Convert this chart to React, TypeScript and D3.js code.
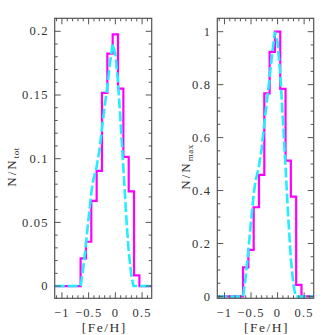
import React from "react";
import * as d3 from "d3";

// Bin edges of the [Fe/H] histogram (width 0.1 dex)
const binEdges = [-0.65, -0.55, -0.45, -0.35, -0.25, -0.15, -0.05, 0.05, 0.15, 0.25, 0.35, 0.45];
// Left panel: N/Ntot per bin
const histTot = [0.0217, 0.0348, 0.0669, 0.0904, 0.1516, 0.1825, 0.1976, 0.155, 0.1014, 0.0743, 0.0084];
// Right panel: N/Nmax per bin
const histMax = [0.11, 0.176, 0.337, 0.459, 0.767, 0.924, 1.0, 0.784, 0.513, 0.377, 0.044];

// Dashed model curve
const modelX = [-1.135, -0.65, -0.6, -0.55, -0.5, -0.45, -0.42, -0.35, -0.3, -0.25, -0.2, -0.15, -0.1, -0.05, 0.0, 0.05, 0.1, 0.15, 0.2, 0.25, 0.3, 0.34, 0.68];
const modelTot = [0, 0, 0.014, 0.033, 0.054, 0.073, 0.082, 0.0936, 0.106, 0.124, 0.141, 0.157, 0.175, 0.19, 0.182, 0.16, 0.127, 0.093, 0.057, 0.027, 0.008, 0, 0];
const modelMax = [0, 0, 0.074, 0.174, 0.284, 0.384, 0.432, 0.493, 0.558, 0.653, 0.742, 0.826, 0.921, 1.0, 0.958, 0.842, 0.668, 0.489, 0.3, 0.142, 0.042, 0, 0];

const xTicks = [-1, -0.5, 0, 0.5];
const xTickLabels = ["\u22121", "\u22120.5", "0", "0.5"];
const yTicksTot = [0, 0.05, 0.1, 0.15, 0.2];
const yTickLabelsTot = ["0", "0.05", "0.1", "0.15", "0.2"];
const yTicksMax = [0, 0.2, 0.4, 0.6, 0.8, 1];
const yTickLabelsMax = ["0", "0.2", "0.4", "0.6", "0.8", "1"];

const X_DOMAIN: [number, number] = [-1.135, 0.68];
const TOP = 18.3;
const BOTTOM = 298.3;
const FONT = "Liberation Serif, Times New Roman, serif";

type PanelProps = {
  left: number;
  right: number;
  yDomain: [number, number];
  hist: number[];
  model: number[];
  yTicks: number[];
  yTickLabels: string[];
  yMinorStep: number;
  sub: string;
  labelX: number;
};

function Panel(p: PanelProps) {
  const x = d3.scaleLinear().domain(X_DOMAIN).range([p.left, p.right]);
  const y = d3.scaleLinear().domain(p.yDomain).range([BOTTOM, TOP]);

  const pts: [number, number][] = [];
  pts.push([X_DOMAIN[0], 0]);
  pts.push([binEdges[0], 0]);
  p.hist.forEach((v, i) => {
    pts.push([binEdges[i], v]);
    pts.push([binEdges[i + 1], v]);
  });
  pts.push([binEdges[binEdges.length - 1], 0]);
  pts.push([X_DOMAIN[1], 0]);
  const lineGen = d3
    .line<[number, number]>()
    .x((d) => x(d[0]))
    .y((d) => y(d[1]));
  const histPath = lineGen(pts) || "";
  const modelPath = lineGen(modelX.map((v, i) => [v, p.model[i]] as [number, number])) || "";

  const xMinor = d3.range(-1.1, 0.7, 0.1).map((v) => Math.round(v * 10) / 10);
  const yMinor = d3
    .range(0, p.yDomain[1], p.yMinorStep)
    .map((v) => Math.round(v / p.yMinorStep) * p.yMinorStep);

  const tickColor = "#555";
  const major = 6;
  const minor = 3;

  return (
    <g>
      <clipPath id={"clip" + Math.round(p.left)}>
        <rect x={p.left} y={TOP} width={p.right - p.left} height={BOTTOM - TOP} />
      </clipPath>
      <g clipPath={`url(#clip${Math.round(p.left)})`}>
        <path d={histPath} fill="none" stroke="#ff00ff" strokeWidth={2.2} strokeLinejoin="miter" />
        <path d={modelPath} fill="none" stroke="#22eeff" strokeWidth={2.6} strokeDasharray="10,3" />
      </g>
      {xMinor.map((v, i) => {
        const isMajor = xTicks.some((t) => Math.abs(t - v) < 1e-6);
        const len = isMajor ? major : minor;
        return (
          <g key={"xm" + i} stroke={tickColor} strokeWidth={1}>
            <line x1={x(v)} x2={x(v)} y1={BOTTOM} y2={BOTTOM - len} />
            <line x1={x(v)} x2={x(v)} y1={TOP} y2={TOP + len} />
          </g>
        );
      })}
      {yMinor.map((v, i) => {
        const isMajor = p.yTicks.some((t) => Math.abs(t - v) < 1e-6);
        const len = isMajor ? major : minor;
        return (
          <g key={"ym" + i} stroke={tickColor} strokeWidth={1}>
            <line x1={p.left} x2={p.left + len} y1={y(v)} y2={y(v)} />
            <line x1={p.right} x2={p.right - len} y1={y(v)} y2={y(v)} />
          </g>
        );
      })}
      <rect
        x={p.left}
        y={TOP}
        width={p.right - p.left}
        height={BOTTOM - TOP}
        fill="none"
        stroke={tickColor}
        strokeWidth={1.2}
      />
      {xTicks.map((v, i) => (
        <text
          key={"xl" + i}
          x={x(v)}
          y={316.5}
          textAnchor="middle"
          fontFamily={FONT}
          fontSize={12.5}
          letterSpacing={1.2}
          fill="#333"
        >
          {xTickLabels[i]}
        </text>
      ))}
      {p.yTicks.map((v, i) => (
        <text
          key={"yl" + i}
          x={p.left - 6}
          y={y(v) + 4.2}
          textAnchor="end"
          fontFamily={FONT}
          fontSize={12.5}
          letterSpacing={1.2}
          fill="#333"
        >
          {p.yTickLabels[i]}
        </text>
      ))}
      <text
        x={(p.left + p.right) / 2 + 1}
        y={332}
        textAnchor="middle"
        fontFamily={FONT}
        fontSize={13.5}
        letterSpacing={1.5}
        fill="#333"
      >
        [Fe/H]
      </text>
      <text
        transform={`translate(${p.labelX},167) rotate(-90)`}
        textAnchor="middle"
        fontFamily={FONT}
        fontSize={13}
        letterSpacing={2}
        fill="#333"
      >
        N/N
        <tspan fontSize={9} dy={3} letterSpacing={0.5}>
          {p.sub}
        </tspan>
      </text>
    </g>
  );
}

export default function App() {
  return (
    <svg width={335} height={335} style={{ position: "absolute", left: 0, top: 0, background: "#fff" }}>
      <rect x={0} y={0} width={335} height={335} fill="#fff" />
      <Panel
        left={54.7}
        right={151.7}
        yDomain={[-0.0096, 0.2102]}
        hist={histTot}
        model={modelTot}
        yTicks={yTicksTot}
        yTickLabels={yTickLabelsTot}
        yMinorStep={0.01}
        sub="tot"
        labelX={15.5}
      />
      <Panel
        left={217.3}
        right={313.7}
        yDomain={[-0.007, 1.0506]}
        hist={histMax}
        model={modelMax}
        yTicks={yTicksMax}
        yTickLabels={yTickLabelsMax}
        yMinorStep={0.05}
        sub="max"
        labelX={189.5}
      />
    </svg>
  );
}
